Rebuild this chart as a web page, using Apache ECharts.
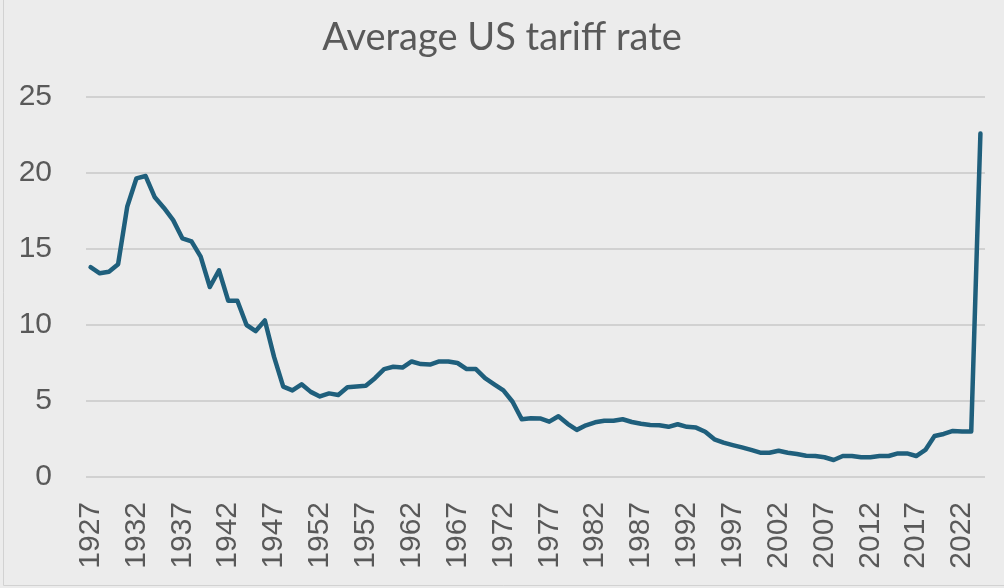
<!DOCTYPE html>
<html>
<head>
<meta charset="utf-8">
<script src="https://cdn.jsdelivr.net/npm/echarts@6/dist/echarts.min.js"></script>
<style>
html,body{margin:0;padding:0;background:#ececec;}
#chart{width:1004px;height:588px;}
</style>
</head>
<body>
<div id="chart"></div>
<script>
const titleText = "Average US tariff rate";
const years = [];
for (let y = 1927; y <= 2024; y++) years.push(String(y));
const tariffRate = [
  13.8, 13.4, 13.5, 14.0, 17.8, 19.65, 19.8, 18.4, 17.7, 16.9,
  15.7, 15.5, 14.5, 12.5, 13.6, 11.6, 11.6, 10.0, 9.6, 10.3,
  7.9, 5.95, 5.7, 6.1, 5.6, 5.3, 5.5, 5.4, 5.9, 5.95,
  6.0, 6.5, 7.1, 7.25, 7.2, 7.6, 7.43, 7.4, 7.6, 7.6,
  7.5, 7.1, 7.1, 6.5, 6.1, 5.7, 4.95, 3.8, 3.86, 3.85,
  3.64, 4.0, 3.5, 3.1, 3.4, 3.6, 3.7, 3.7, 3.8, 3.62,
  3.5, 3.42, 3.4, 3.3, 3.47, 3.3, 3.25, 2.98, 2.48, 2.26,
  2.1, 1.95, 1.78, 1.6, 1.6, 1.73, 1.6, 1.51, 1.4, 1.38,
  1.3, 1.12, 1.38, 1.38, 1.3, 1.3, 1.38, 1.38, 1.55, 1.55,
  1.38, 1.78, 2.7, 2.83, 3.03, 3.0, 3.0, 22.6
];
const yTicks = { min: 0, max: 25, interval: 5 };

const chart = echarts.init(document.getElementById('chart'), null, {renderer: 'canvas'});
chart.setOption({
  backgroundColor: '#ececec',
  animation: false,
  title: {
    text: titleText,
    left: 'center',
    top: 14,
    textStyle: {
      fontFamily: 'Lato',
      fontSize: 38,
      fontWeight: 'normal',
      color: '#595959'
    }
  },
  graphic: [
    { type: 'line', shape: {x1: 3.5, y1: 0, x2: 3.5, y2: 585.5}, style: {stroke: '#d2d2d2', lineWidth: 1} },
    { type: 'line', shape: {x1: 3.5, y1: 585.5, x2: 1004, y2: 585.5}, style: {stroke: '#d2d2d2', lineWidth: 1} }
  ],
  grid: { left: 86, right: 19, top: 97, bottom: 111 },
  xAxis: {
    type: 'category',
    data: years,
    boundaryGap: true,
    axisLine: { show: false },
    axisTick: { show: false },
    axisLabel: {
      interval: 4,
      rotate: 90,
      margin: 25,
      fontFamily: 'Liberation Sans',
      fontSize: 30,
      color: '#595959'
    }
  },
  yAxis: {
    type: 'value',
    min: yTicks.min,
    max: yTicks.max,
    interval: yTicks.interval,
    axisLine: { show: false },
    axisTick: { show: false },
    splitLine: { lineStyle: { color: '#c9c9c9', width: 1.5 } },
    axisLabel: {
      margin: 34,
      fontFamily: 'Liberation Sans',
      fontSize: 30,
      color: '#595959'
    }
  },
  series: [{
    type: 'line',
    data: tariffRate,
    symbol: 'none',
    lineStyle: { color: '#1f5f7c', width: 4.5, join: 'round', cap: 'round' }
  }]
});
</script>
</body>
</html>
